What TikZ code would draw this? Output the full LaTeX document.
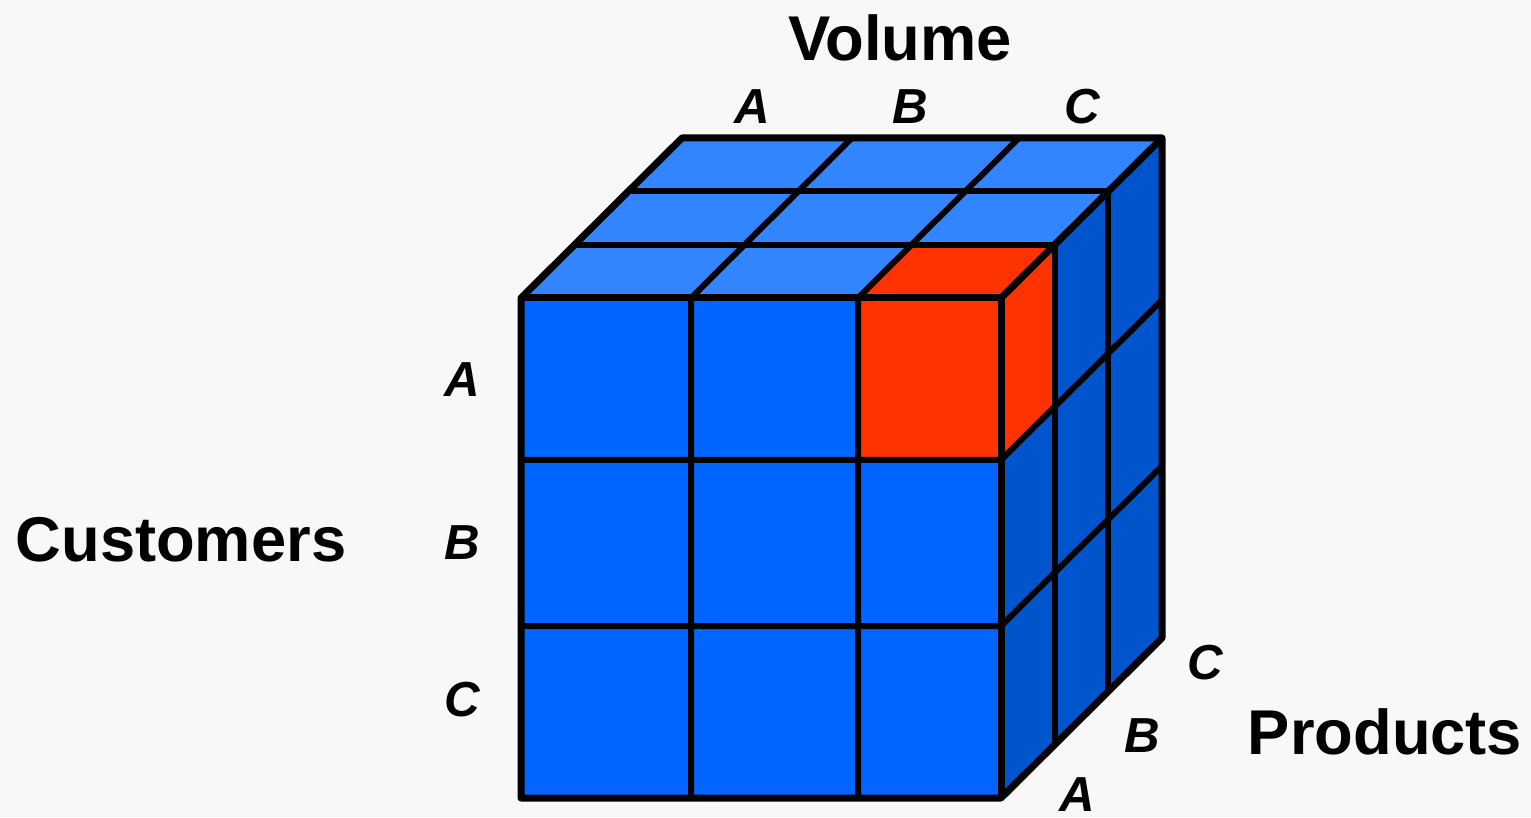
\documentclass[tikz,border=0pt]{standalone}
\usepackage{fontspec}
\setmainfont{Liberation Sans}
\definecolor{bgGrey}{HTML}{F8F8F8}
\definecolor{frontBlue}{HTML}{0066FF}
\definecolor{topBlue}{HTML}{3385FF}
\definecolor{sideBlue}{HTML}{0055CC}
\definecolor{hotRed}{HTML}{FF3300}
\newcommand{\dpX}{0.5367}
\newcommand{\dpY}{0.5333}

\begin{document}
\begin{tikzpicture}[
    axislabel/.style={font=\fontsize{18}{22}\selectfont\bfseries},
    lettr/.style={font=\fontsize{14}{17}\selectfont\bfseries\itshape},
    cubeline/.style={line width=0.6mm, line join=round},
    rim/.style={line width=0.7mm, line join=round}]
  \fill[bgGrey] (0,0) rectangle (15.31,8.17);
  \useasboundingbox (0,0) rectangle (15.31,8.17);
  % front face
  \fill[frontBlue] (5.21,0.19) rectangle (10.01,5.19);
  \fill[hotRed] (8.58,3.57) rectangle (10.01,5.19);
  % top face
  \fill[topBlue] (5.21,5.19) -- (10.01,5.19) -- (11.62,6.79) -- (6.82,6.79) -- cycle;
  \fill[hotRed] (8.58,5.19) -- (10.01,5.19) -- ++(\dpX,\dpY) -- (8.58+\dpX,5.19+\dpY) -- cycle;
  % right face
  \fill[sideBlue] (10.01,0.19) -- (11.62,1.79) -- (11.62,6.79) -- (10.01,5.19) -- cycle;
  \fill[hotRed] (10.01,3.57) -- ++(\dpX,\dpY) -- (10.01+\dpX,5.19+\dpY) -- (10.01,5.19) -- cycle;
  % grid lines
  \foreach \x in {6.91,8.58}
    \draw[cubeline] (\x,0.19) -- ++(0,5) -- ++(1.61,1.6);
  \foreach \y in {1.91,3.57}
    \draw[cubeline] (5.21,\y) -- (10.01,\y) -- ++(1.61,1.6);
  \foreach \j in {1,2}
    \draw[cubeline] (5.21+\dpX*\j,5.19+\dpY*\j) -- ++(4.8,0) -- ++(0,-5);
  % outline
  \draw[rim] (5.21,0.19) -- (10.01,0.19) -- (11.62,1.79) -- (11.62,6.79)
    -- (6.82,6.79) -- (5.21,5.19) -- cycle;
  \draw[rim] (5.21,5.19) -- (10.01,5.19) -- (10.01,0.19);
  \draw[rim] (10.01,5.19) -- (11.62,6.79);

  \node[axislabel] (volume) at (9.00,7.79) {Volume};
  \node[axislabel] (customers) at (1.81,2.77) {Customers};
  \node[axislabel] (products) at (13.85,0.85) {Products};
  \foreach \l/\x in {A/7.52,B/9.10,C/10.82}
    \node[lettr] (vol\l) at (\x,7.10) {\l};
  \foreach \l/\y in {A/4.37,B/2.74,C/1.17}
    \node[lettr] (cus\l) at (4.62,\y) {\l};
  \foreach \l/\x/\y in {A/10.77/0.22,B/11.42/0.81,C/12.05/1.54}
    \node[lettr] (pro\l) at (\x,\y) {\l};
\end{tikzpicture}
\end{document}
